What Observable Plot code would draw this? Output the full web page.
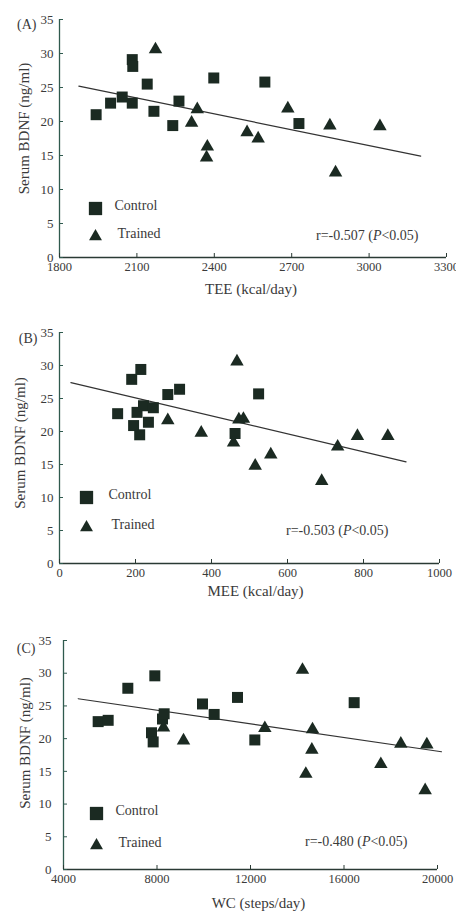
<!DOCTYPE html>
<html><head><meta charset="utf-8">
<script src="https://cdn.jsdelivr.net/npm/d3@7"></script>
<script src="https://cdn.jsdelivr.net/npm/@observablehq/plot@0.6"></script>
<style>
body{margin:0;background:#fff;width:456px;height:916px;overflow:hidden;position:relative;font-family:"Liberation Serif",serif}
.panel{position:absolute;left:0}
</style></head><body>
<div id="pa" class="panel" style="top:0"></div>
<div id="pb" class="panel" style="top:305px"></div>
<div id="pc" class="panel" style="top:610px"></div>
<script>
// ---- data ----
const yTicks = [0, 5, 10, 15, 20, 25, 30, 35];

// Panel A: TEE
const teeTicks = [1800, 2100, 2400, 2700, 3000, 3300];
const teeControl = [1942, 1998, 2043, 2082, 2084, 2082, 2140, 2166, 2263, 2239, 2398, 2596, 2728];
const teeControlBDNF = [21.0, 22.7, 23.6, 29.1, 28.1, 22.7, 25.5, 21.5, 23.0, 19.4, 26.4, 25.8, 19.7];
const teeTrained = [2172, 2334, 2312, 2373, 2370, 2527, 2570, 2685, 2848, 2870, 3042];
const teeTrainedBDNF = [30.6, 21.8, 19.8, 16.3, 14.7, 18.4, 17.5, 21.9, 19.4, 12.5, 19.3];
const teeFitX = [1875, 3200];
const teeFitY = [25.2, 14.9];

// Panel B: MEE
const meeTicks = [0, 200, 400, 600, 800, 1000];
const meeControl = [153, 190, 214, 204, 195, 211, 221, 234, 247, 285, 316, 462, 524];
const meeControlBDNF = [22.7, 27.9, 29.4, 22.9, 20.9, 19.5, 23.9, 21.4, 23.6, 25.6, 26.4, 19.7, 25.7];
const meeTrained = [467, 285, 373, 472, 484, 458, 515, 556, 690, 732, 784, 864];
const meeTrainedBDNF = [30.6, 21.7, 19.8, 21.8, 21.9, 18.3, 14.8, 16.5, 12.5, 17.7, 19.3, 19.3];
const meeFitX = [30, 912];
const meeFitY = [27.4, 15.4];

// Panel C: WC
const wcTicks = [4000, 8000, 12000, 16000, 20000];
const wcControl = [5483, 5911, 6752, 7907, 7765, 7836, 8235, 8306, 9946, 10446, 11444, 12185, 16435];
const wcControlBDNF = [22.6, 22.8, 27.7, 29.6, 20.9, 19.5, 23.0, 23.8, 25.3, 23.7, 26.3, 19.8, 25.5];
const wcTrained = [14224, 8278, 9134, 12613, 14652, 14624, 14367, 17576, 18431, 19543, 19472];
const wcTrainedBDNF = [30.5, 21.7, 19.7, 21.6, 21.4, 18.3, 14.6, 16.1, 19.2, 19.1, 12.1];
const wcFitX = [4627, 20171];
const wcFitY = [26.1, 18.0];

const yLabel = "Serum BDNF (ng/ml)";
const legendLabels = ["Control", "Trained"];

// ---- styling ----
const markColor = "#1b2a22";
const axisColor = "#2f5a4e";
const textColor = "#3a3a3a";
const font = "Liberation Serif";

function panel(el, c) {
  const zip = (xs, ys) => xs.map((x, i) => ({x, y: ys[i]}));
  const ctrl = zip(c.cx, c.cy), trn = zip(c.tx, c.ty), fit = zip(c.fx, c.fy);
  const svg = Plot.plot({
    width: 456, height: c.height,
    marginTop: c.mt, marginBottom: c.mb, marginLeft: c.ml, marginRight: c.mr,
    style: {fontFamily: font, fontSize: "13px", color: textColor, background: "transparent", overflow: "visible"},
    x: {domain: [c.xTicks[0], c.xTicks[c.xTicks.length - 1]]},
    y: {domain: [0, 35]},
    marks: [
      Plot.ruleX([c.xTicks[0]], {stroke: axisColor, strokeWidth: 1.3}),
      Plot.ruleY([0], {stroke: "#2a3a34", strokeWidth: 1.3}),
      Plot.axisY(yTicks, {anchor: "left", tickSize: -4, tickPadding: c.ytp, label: null, stroke: axisColor, fill: textColor, fontSize: 13}),
      Plot.axisX(c.xTicks, {anchor: "bottom", tickSize: -4, tickPadding: 9, label: null, stroke: "#2a3a34", fill: textColor, fontSize: 12.5, tickFormat: d => String(d)}),
      Plot.line(fit, {x: "x", y: "y", stroke: "#333", strokeWidth: 1.2}),
      Plot.dot(ctrl, {x: "x", y: "y", symbol: "square", r: 6.2, fill: markColor}),
      Plot.dot(trn, {x: "x", y: "y", symbol: "triangle", r: 5, fill: markColor}),
      // legend
      Plot.dot([0], {frameAnchor: "bottom-left", dx: c.lg[0], dy: c.lg[1], symbol: "square", r: 7.5, fill: markColor}),
      Plot.dot([0], {frameAnchor: "bottom-left", dx: c.lg[0], dy: c.lg[2], symbol: "triangle", r: 4.8, fill: markColor}),
      Plot.text([legendLabels[0]], {text: d => d, frameAnchor: "bottom-left", dx: c.lg[3], dy: c.lg[1] + 1, textAnchor: "start", fontSize: 14, fill: textColor}),
      Plot.text([legendLabels[1]], {text: d => d, frameAnchor: "bottom-left", dx: c.lg[3] + 3, dy: c.lg[2] + 1, textAnchor: "start", fontSize: 14, fill: textColor}),
      // correlation
      Plot.text([c.r], {text: d => d, frameAnchor: "bottom-right", dx: c.rp[0], dy: c.rp[1], textAnchor: "end", fontSize: 14, fill: textColor}),
      // panel letter
      Plot.text([c.letter], {text: d => d, frameAnchor: "top-left", dx: c.lp[0], dy: c.lp[1], textAnchor: "end", fontSize: 14, fill: textColor}),
      // axis labels
      Plot.text([yLabel], {text: d => d, frameAnchor: "left", textAnchor: "middle", dx: c.yl[0], dy: c.yl[1], rotate: -90, fontSize: 15, fill: textColor}),
      Plot.text([c.xLabel], {text: d => d, frameAnchor: "bottom", textAnchor: "middle", dx: c.xl[0], dy: c.xl[1], fontSize: 15, fill: textColor})
    ]
  });
  d3.select(svg).selectAll("text").filter(function() { return this.textContent.startsWith("r="); })
    .each(function() {
      const t = this.textContent, i = t.indexOf("P");
      const s = d3.select(this); s.text(null);
      s.append("tspan").text(t.slice(0, i));
      s.append("tspan").attr("font-style", "italic").text("P");
      s.append("tspan").text(t.slice(i + 1));
    });
  document.getElementById(el).appendChild(svg);
}

panel("pa", {
  height: 305, mt: 19, mb: 48, ml: 59, mr: 10, ytp: 10,
  xTicks: teeTicks, cx: teeControl, cy: teeControlBDNF, tx: teeTrained, ty: teeTrainedBDNF, fx: teeFitX, fy: teeFitY,
  lg: [36, -49, -21, 55], r: "r=-0.507 (P<0.05)", rp: [-28, -18], letter: "(A)", lp: [-23, 0],
  yl: [-35, -10], xLabel: "TEE (kcal/day)", xl: [-2, 36]
});
panel("pb", {
  height: 305, mt: 27, mb: 47, ml: 59, mr: 17, ytp: 10,
  xTicks: meeTicks, cx: meeControl, cy: meeControlBDNF, tx: meeTrained, ty: meeTrainedBDNF, fx: meeFitX, fy: meeFitY,
  lg: [27, -66, -36, 49], r: "r=-0.503 (P<0.05)", rp: [-51, -29], letter: "(B)", lp: [-22, 1],
  yl: [-39, -5], xLabel: "MEE (kcal/day)", xl: [6, 32]
});
panel("pc", {
  height: 306, mt: 30, mb: 47, ml: 63, mr: 19, ytp: 16,
  xTicks: wcTicks, cx: wcControl, cy: wcControlBDNF, tx: wcTrained, ty: wcTrainedBDNF, fx: wcFitX, fy: wcFitY,
  lg: [33, -56, -24, 52], r: "r=-0.480 (P<0.05)", rp: [-30, -24], letter: "(C)", lp: [-28, 3],
  yl: [-38, -12], xLabel: "WC (steps/day)", xl: [8, 38]
});
</script>
</body></html>
